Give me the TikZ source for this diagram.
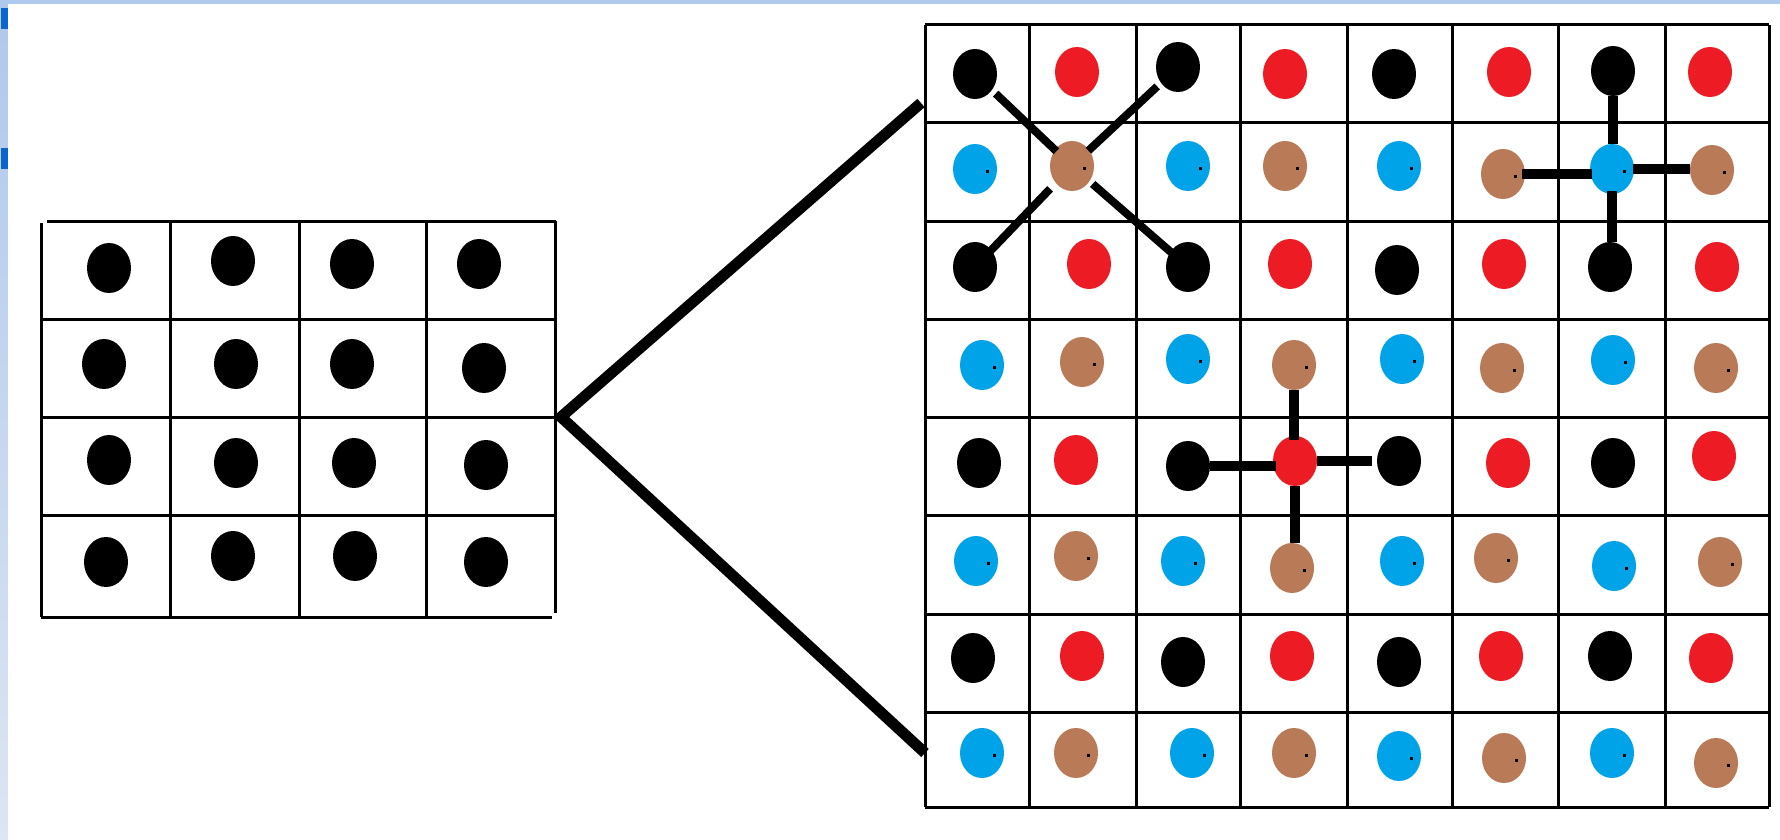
\documentclass[tikz,border=0pt]{standalone}
\usetikzlibrary{shapes.geometric}
\definecolor{pRed}{HTML}{ED1C24}
\definecolor{pBlue}{HTML}{00A2E8}
\definecolor{pBrown}{HTML}{B97A57}
\definecolor{barBlue}{HTML}{B0CAEE}
\definecolor{stripTop}{HTML}{B0C8EC}
\definecolor{stripBot}{HTML}{DCE5F3}
\definecolor{markBlue}{HTML}{0A66CE}
\tikzset{
  dotb/.style={ellipse, inner sep=0pt, minimum width=44pt, minimum height=50pt, draw=none},
  speck/.style={path picture={\fill[black] ([xshift=11pt,yshift=-4pt]path picture bounding box.center) rectangle ++(3pt,3pt);}},
  bk/.style={dotb, fill=black},
  rd/.style={dotb, fill=pRed},
  bl/.style={dotb, fill=pBlue, speck},
  br/.style={dotb, fill=pBrown, speck},
  gridline/.style={line width=3pt},
  link/.style={line width=8pt},
  crossline/.style={line width=10pt},
  zoomline/.style={line width=11pt, line join=miter},
}
\begin{document}
\begin{tikzpicture}[x=1pt,y=-1pt]
\useasboundingbox (0,0) rectangle (1780,840);
\fill[white] (0,0) rectangle (1780,840);
% window edges
\fill[barBlue] (0,0) rectangle (1780,4);
\shade[top color=stripTop, bottom color=stripBot] (0,0) rectangle (7.5,840);
\fill[markBlue] (1,8) rectangle (7.5,29);
\fill[markBlue] (1,148) rectangle (7.5,169);

% ---------- left grid ----------
\draw[gridline] (47,221) -- (556,221);
\draw[gridline] (41,223) -- (41,617);
\draw[gridline] (41,617) -- (552,617);
\draw[gridline] (555,221) -- (555,613);
\foreach \y in {319.5,417,515} \draw[gridline] (41,\y) -- (555,\y);
\foreach \x in {170,299,426} \draw[gridline] (\x,221) -- (\x,617);

\node[bk] (l1c1) at (109,268) {};
\node[bk] (l1c2) at (233,261) {};
\node[bk] (l1c3) at (352,264) {};
\node[bk] (l1c4) at (479,264) {};
\node[bk] (l2c1) at (104,364) {};
\node[bk] (l2c2) at (236,364) {};
\node[bk] (l2c3) at (352,364) {};
\node[bk] (l2c4) at (484,368) {};
\node[bk] (l3c1) at (109,460) {};
\node[bk] (l3c2) at (236,463) {};
\node[bk] (l3c3) at (354,463) {};
\node[bk] (l3c4) at (486,465) {};
\node[bk] (l4c1) at (106,562) {};
\node[bk] (l4c2) at (233,556) {};
\node[bk] (l4c3) at (355,556) {};
\node[bk] (l4c4) at (486,562) {};

% ---------- right grid ----------
\foreach \y in {25,123,221,319,417,515.5,614,712,807} \draw[gridline] (925,\y) -- (1769,\y);
\foreach \x in {925,1029.5,1136.5,1240.5,1347,1452,1558.5,1665,1769} \draw[gridline] (\x,25) -- (\x,807);

% row 1
\node[bk] (r1c1) at (975,74) {};
\node[rd] (r1c2) at (1077,72) {};
\node[bk] (r1c3) at (1178,67) {};
\node[rd] (r1c4) at (1285,74) {};
\node[bk] (r1c5) at (1394,74) {};
\node[rd] (r1c6) at (1509,72) {};
\node[bk] (r1c7) at (1613,71) {};
\node[rd] (r1c8) at (1710,72) {};
% row 2
\node[bl] (r2c1) at (975,169) {};
\node[br] (r2c2) at (1072,166) {};
\node[bl] (r2c3) at (1188,166) {};
\node[br] (r2c4) at (1285,166) {};
\node[bl] (r2c5) at (1399,166) {};
\node[br] (r2c6) at (1503,174) {};
\node[bl] (r2c7) at (1612,169) {};
\node[br] (r2c8) at (1712,170) {};
% row 3
\node[bk] (r3c1) at (975,267) {};
\node[rd] (r3c2) at (1089,264) {};
\node[bk] (r3c3) at (1188,267) {};
\node[rd] (r3c4) at (1290,264) {};
\node[bk] (r3c5) at (1397,270) {};
\node[rd] (r3c6) at (1504,264) {};
\node[bk] (r3c7) at (1610,267) {};
\node[rd] (r3c8) at (1717,267) {};
% row 4
\node[bl] (r4c1) at (982,365) {};
\node[br] (r4c2) at (1082,362) {};
\node[bl] (r4c3) at (1188,359) {};
\node[br] (r4c4) at (1294,365) {};
\node[bl] (r4c5) at (1402,359) {};
\node[br] (r4c6) at (1502,368) {};
\node[bl] (r4c7) at (1613,360) {};
\node[br] (r4c8) at (1716,368) {};
% row 5
\node[bk] (r5c1) at (979,463) {};
\node[rd] (r5c2) at (1076,460) {};
\node[bk] (r5c3) at (1188,466) {};
\node[rd] (r5c4) at (1295,461) {};
\node[bk] (r5c5) at (1399,461) {};
\node[rd] (r5c6) at (1508,463) {};
\node[bk] (r5c7) at (1613,463) {};
\node[rd] (r5c8) at (1714,456) {};
% row 6
\node[bl] (r6c1) at (976,561) {};
\node[br] (r6c2) at (1076,556) {};
\node[bl] (r6c3) at (1183,561) {};
\node[br] (r6c4) at (1292,568) {};
\node[bl] (r6c5) at (1402,561) {};
\node[br] (r6c6) at (1496,558) {};
\node[bl] (r6c7) at (1614,566) {};
\node[br] (r6c8) at (1720,562) {};
% row 7
\node[bk] (r7c1) at (973,658) {};
\node[rd] (r7c2) at (1082,656) {};
\node[bk] (r7c3) at (1183,662) {};
\node[rd] (r7c4) at (1292,656) {};
\node[bk] (r7c5) at (1399,662) {};
\node[rd] (r7c6) at (1501,656) {};
\node[bk] (r7c7) at (1610,656) {};
\node[rd] (r7c8) at (1711,658) {};
% row 8
\node[bl] (r8c1) at (982,753) {};
\node[br] (r8c2) at (1076,753) {};
\node[bl] (r8c3) at (1192,753) {};
\node[br] (r8c4) at (1294,753) {};
\node[bl] (r8c5) at (1399,756) {};
\node[br] (r8c6) at (1504,758) {};
\node[bl] (r8c7) at (1612,753) {};
\node[br] (r8c8) at (1716,763) {};

% ---------- zoom lines ----------
\coordinate (apex) at (561,417);
\coordinate (vtop) at (921,103);
\coordinate (vbot) at (925,753);
\draw[zoomline] (vtop) -- (apex) -- (vbot);

% ---------- bonds ----------
\draw[link, shorten <=5pt, shorten >=-2pt] (r1c1) -- (r2c2);
\draw[link, shorten <=-1pt, shorten >=5pt] (r2c2) -- (r1c3);
\draw[link, shorten <=8pt, shorten >=-2pt] (r2c2) -- (r3c1);
\draw[link, shorten <=4pt, shorten >=-3pt] (r2c2) -- (r3c3);

% top-right cross (straight bonds)
\draw[crossline] (r1c7.south) -- (r1c7.south |- r2c7.north);
\draw[crossline, shorten <=-3pt, shorten >=-2pt] (r2c6.east) -- (r2c6.east -| r2c7.west);
\draw[crossline, shorten <=-1pt] (r2c7.east) -- (r2c7.east -| r2c8.west);
\draw[crossline, shorten <=-3pt] (r2c7.south) -- (r2c7.south |- r3c7.north);

% middle cross (straight bonds)
\draw[crossline, shorten >=-4pt] (r4c4.south) -- (r4c4.south |- r5c4.north);
\draw[crossline, shorten >=-3pt] (r5c3.east) -- (r5c3.east -| r5c4.west);
\draw[crossline, shorten >=5pt] (r5c4.east) -- (r5c4.east -| r5c5.west);
\draw[crossline] (r5c4.south) -- (r5c4.south |- r6c4.north);
\end{tikzpicture}
\end{document}
